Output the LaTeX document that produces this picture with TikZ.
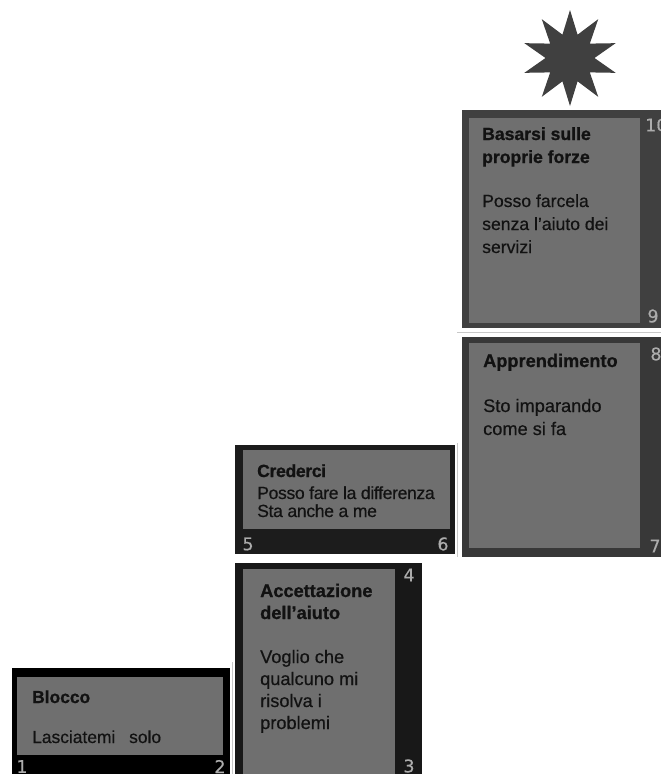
\documentclass[tikz,border=0pt]{standalone}
\usepackage{fontspec}
\setmainfont{Liberation Sans}[FakeBold=0.5,BoldFeatures={FakeBold=0.9}]
\newfontfamily\numfont{DejaVu Sans}[FakeBold=0.4]
\definecolor{panel}{RGB}{111,111,111}
\definecolor{rimA}{RGB}{0,0,0}
\definecolor{rimB}{RGB}{24,24,24}
\definecolor{rimC}{RGB}{28,28,28}
\definecolor{rimD}{RGB}{56,56,56}
\definecolor{rimE}{RGB}{64,64,64}
\definecolor{numgray}{RGB}{172,172,172}
\definecolor{edgegray}{RGB}{200,200,200}
\definecolor{starfill}{RGB}{64,64,64}
\begin{document}
\begin{tikzpicture}[x=1pt,y=-1pt,
  line/.style={anchor=base west,inner sep=0pt,text=black!93},
  numlbl/.style={inner sep=0pt,text=numgray,font=\numfont\fontsize{17.5}{17.5}\selectfont},
  edge/.style={draw=edgegray,line width=0.8pt}]
\useasboundingbox (0,0) rectangle (661,774);
\clip (0,0) rectangle (661,774);

% step 1: Blocco
\fill[rimA] (12,668) rectangle (230,790);
\fill[panel] (17,677) rectangle (223,755);
\draw[edge] (232.5,662) -- (232.5,774);
\begin{scope}[every node/.append style={font=\fontsize{17.4}{20}\selectfont}]
\node[line] (s1a) at (32,703) {\bfseries Blocco};
\node[line] (s1b) at (32,743) {Lasciatemi\hspace{9pt} solo};
\end{scope}
\node[numlbl] (n1) at (22,766.5) {1};
\node[numlbl] (n2) at (220,766.5) {2};

% step 2: Accettazione dell'aiuto
\fill[rimB] (235,563) rectangle (422,790);
\fill[panel] (243,569) rectangle (395,776);
\begin{scope}[every node/.append style={font=\fontsize{18.2}{20}\selectfont}]
\node[line] (s2a) at (260,597) {\bfseries Accettazione};
\node[line] (s2b) at (260,619) {\bfseries dell’aiuto};
\node[line] (s2c) at (260,663) {Voglio che};
\node[line] (s2d) at (260,685) {qualcuno mi};
\node[line] (s2e) at (260,707) {risolva i};
\node[line] (s2f) at (260,729) {problemi};
\end{scope}
\node[numlbl] (n3) at (409,766) {3};
\node[numlbl] (n4) at (409,575) {4};

% step 3: Crederci
\fill[rimC] (235,445) rectangle (455,554);
\fill[panel] (243,450) rectangle (450,529);
\draw[edge] (457.5,443) -- (457.5,557);
\begin{scope}[every node/.append style={font=\fontsize{17.6}{20}\selectfont\addfontfeatures{LetterSpace=-2}}]
\node[line] (s3a) at (257,477) {\bfseries Crederci};
\node[line] (s3b) at (257,499) {Posso fare la differenza};
\node[line] (s3c) at (257,517) {Sta anche a me};
\end{scope}
\node[numlbl] (n5) at (248,544) {5};
\node[numlbl] (n6) at (443,544) {6};

% step 4: Apprendimento
\fill[rimD] (462,337) rectangle (680,557);
\fill[panel] (469,343) rectangle (640,548);
\draw[edge] (457,332) -- (661,332);
\begin{scope}[every node/.append style={font=\fontsize{18.2}{20}\selectfont}]
\node[line] (s4a) at (483,367) {\bfseries Apprendimento};
\node[line] (s4b) at (483,412) {Sto imparando};
\node[line] (s4c) at (483,435) {come si fa};
\end{scope}
\node[numlbl] (n7) at (655,546) {7};
\node[numlbl] (n8) at (656,354) {8};

% step 5: Basarsi sulle proprie forze
\fill[rimE] (462,110) rectangle (680,328);
\fill[panel] (469,118) rectangle (640,323);
\begin{scope}[every node/.append style={font=\fontsize{17.6}{20}\selectfont}]
\node[line] (s5a) at (482,140) {\bfseries Basarsi sulle};
\node[line] (s5b) at (482,163) {\bfseries proprie forze};
\node[line] (s5c) at (482,207) {Posso farcela};
\node[line] (s5d) at (482,230) {senza l’aiuto dei};
\node[line] (s5e) at (482,253) {servizi};
\end{scope}
\node[numlbl] (n9) at (653,316) {9};
\node[numlbl,anchor=west] (n10) at (645,125) {10};

% ten-pointed star above the top step
\fill[starfill] plot[samples at={0,...,19}, variable=\k]
  ({570+ifthenelse(mod(\k,2)==0,48,24.5)*cos(90+18*\k)},
   {58-ifthenelse(mod(\k,2)==0,48,24.5)*sin(90+18*\k)}) -- cycle;
\end{tikzpicture}
\end{document}
